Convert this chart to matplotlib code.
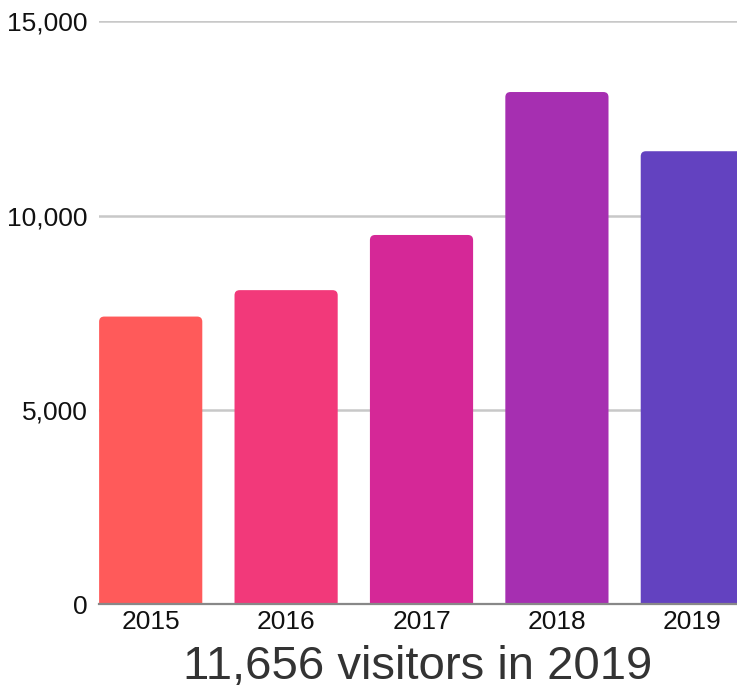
import matplotlib
matplotlib.use('Agg')
import matplotlib.pyplot as plt
from matplotlib.patches import FancyBboxPatch
from matplotlib.ticker import FuncFormatter

plt.rcParams['font.family'] = ['Liberation Sans', 'DejaVu Sans']

years = ['2015', '2016', '2017', '2018', '2019']
visitors = [7400, 8080, 9500, 13180, 11656]
colors = ['#ff5a5a', '#f2397a', '#d52897', '#a62fb1', '#6342c0']
title = '11,656 visitors in 2019'

fig = plt.figure(figsize=(7.37, 6.90), dpi=100)
ax = fig.add_axes([0.1343, 0.1246, 0.8657, 0.8445])

x = list(range(len(years)))
bars = ax.bar(x, visitors, width=0.762, color=colors, zorder=2)

# swap plain rectangles for ones with rounded tops (bottom hidden below 0)
ax.set_xlim(-0.382, 4.33)
ax.set_ylim(0, 15000)
r = 0.038
aspect = (15000 / 582.7) / (1 / 135.4)
for b in bars:
    b.set_visible(False)
    p = FancyBboxPatch((b.get_x(), -400), b.get_width(), b.get_height() + 400,
                       boxstyle=f'round,pad=0,rounding_size={r}',
                       mutation_aspect=aspect,
                       facecolor=b.get_facecolor(), edgecolor='none', zorder=2)
    ax.add_patch(p)

ax.set_xticks(x)
ax.set_xticklabels(years)
ax.set_yticks([0, 5000, 10000, 15000])
ax.yaxis.set_major_formatter(FuncFormatter(lambda v, pos: f'{int(v):,}'))
ax.tick_params(axis='both', length=0, labelsize=19, colors='#111111')
ax.tick_params(axis='x', pad=4)
ax.tick_params(axis='y', pad=8)

ax.grid(axis='y', color='#c8c8c8', linewidth=1.8, zorder=1)
ax.set_axisbelow(True)
for s in ['top', 'right', 'left']:
    ax.spines[s].set_visible(False)
ax.spines['bottom'].set_color('#888888')
ax.spines['bottom'].set_linewidth(1.6)
ax.spines['bottom'].set_zorder(3)

ax.set_xlabel(title, fontsize=34, color='#333333', labelpad=8)

fig.savefig('out.png', dpi=100)
